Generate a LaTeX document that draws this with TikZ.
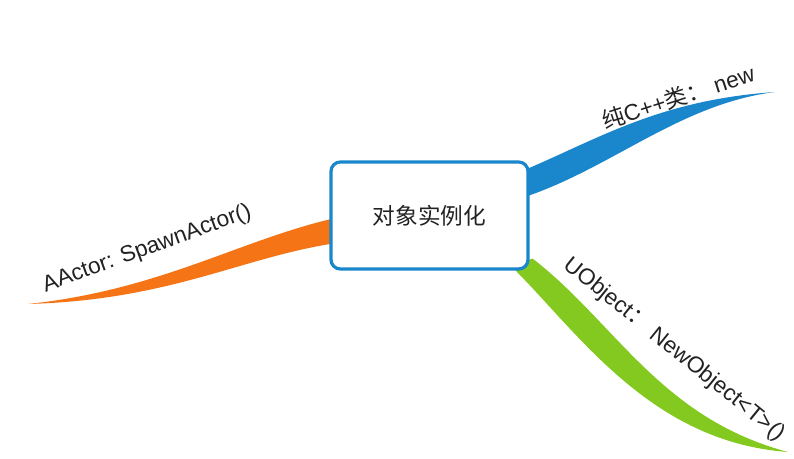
\documentclass[tikz,border=0pt]{standalone}
\usepackage{fontspec}
\setmainfont{Liberation Sans}
\newfontfamily\cjk{Noto Sans CJK SC}
\usepackage{xcolor}
\usepackage{tikz}
\usetikzlibrary{
	positioning,
	calc,
	backgrounds
}

\definecolor{mapblue}{RGB}{26,134,203}
\definecolor{maporange}{RGB}{245,116,22}
\definecolor{mapgreen}{RGB}{132,201,31}
\definecolor{maptext}{RGB}{34,34,34}

\tikzset{
	rootbox/.style={draw=mapblue, line width=2.4pt, rounded corners=7pt, fill=white,
		minimum width=147.75pt, minimum height=80.25pt, text=maptext,
		font=\cjk\fontsize{17}{20}\selectfont},
	branchlabel/.style={text=maptext, inner sep=0pt, font=\fontsize{17}{20}\selectfont}
}

\begin{document}
\begin{tikzpicture}[x=0.75pt, y=-0.75pt]
		
		\useasboundingbox (0,0) rectangle (794,459);
		
		\node[rootbox] (root) at (429.5,215.5) {对象实例化};
		
		\coordinate (cpptip) at (775,92);
		\coordinate (actortip) at (28,304);
		\coordinate (objtip) at (788,452);
		
		\begin{scope}[on background layer]
		\fill[mapblue]
		($(root.north east)+(-6,10)$)
		.. controls (600,138) and (660,100)
		.. (cpptip)
		.. controls (680,104) and (612,168)
		.. ($(root.north east)+(-6,37)$) -- cycle;
		
		\fill[maporange]
		($(root.west)+(4,3)$)
		.. controls (240,240) and (160,290)
		.. (actortip)
		.. controls (170,300) and (240,258)
		.. ($(root.west)+(4,28)$) -- cycle;
		
		\fill[mapgreen]
		($(root.south east)+(3,-12)$)
		.. controls (615,322) and (660,418)
		.. (objtip)
		.. controls (650,442) and (578,332)
		.. ($(root.south east)+(-18,-4)$) -- cycle;
		\end{scope}
		
		\node[branchlabel, rotate=18] (cpplabel) at (678,97) {{\cjk 纯}C++{\cjk 类：} new};
		\node[branchlabel, rotate=20] (actorlabel) at (147,249) {AActor: SpawnActor()};
		\node[branchlabel, rotate=-39] (objlabel) at (674,350) {UObject{\cjk ：} NewObject<T>()};
		
	\end{tikzpicture}
\end{document}
